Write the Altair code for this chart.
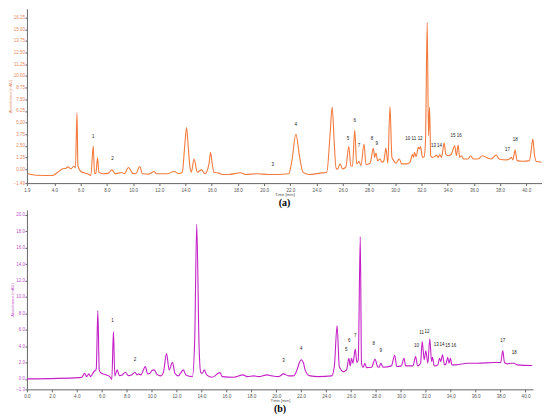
import altair as alt
import pandas as pd

# ---- (a) trace: retention time [min], absorbance [mAU]
a_time = [1.97, 2.6, 3.87, 4.25, 4.63, 4.88, 5.01, 5.26, 5.47, 5.6, 5.72, 5.79, 6.02, 6.53, 6.78,
          6.96, 7.06, 7.16, 7.29, 7.39, 7.67, 8.13, 8.38, 8.64, 9.14, 9.32, 9.65, 9.95, 10.2, 10.51,
          10.71, 11.22, 11.6, 11.78, 12.61, 13.12, 13.5, 13.76, 13.93, 14.08, 14.21, 14.34, 14.44, 14.65, 14.9,
          15.22, 15.48, 15.79, 15.91, 16.04, 16.17, 16.55, 16.8, 17.31, 18.19, 18.57, 19.46, 20.35,
          20.98, 21.87, 22.12, 22.42, 22.71, 22.96, 23.39, 24.27, 24.78, 25.03, 25.19, 25.34, 25.49,
          25.62, 25.79, 25.98, 26.23, 26.46, 26.61, 26.74, 26.91, 27.06, 27.24, 27.39, 27.62, 27.77,
          28.08, 28.33, 28.43, 28.53, 28.66, 28.84, 28.99, 29.14, 29.29, 29.44, 29.6, 29.75, 29.85,
          30.05, 30.31, 30.49, 30.87, 31.12, 31.32, 31.4, 31.47, 31.6, 31.76, 31.85, 31.93, 32.08,
          32.21, 32.31, 32.44, 32.54, 32.62, 32.71, 32.82, 33.02, 33.15, 33.28, 33.4, 33.53, 33.73,
          33.86, 34.04, 34.29, 34.54, 34.67, 34.8, 34.92, 35.05, 35.22, 35.56, 35.76, 35.94, 36.32,
          36.65, 36.95, 37.33, 37.71, 37.92, 38.47, 38.72, 38.87, 38.98, 39.15, 39.3, 39.74, 40.24,
          40.34, 40.5, 40.62, 40.75, 41.17]
a_abs = [-0.49, -0.64, -0.67, -0.32, 0.04, 0.11, 0.25, 0.04, 0.32, 0.15, 6.05, 0.39, -0.24, -0.49, -0.67,
         2.52, -0.49, -0.42, 1.21, -0.32, -0.49, -0.42, -0.07, -0.49, -0.35, -0.49, 0.18, -0.42, -0.49, 0.29,
         -0.49, -0.53, -0.24, -0.49, -0.49, -0.24, -0.49, -0.32, 2.34, 4.46, 2.34, 0.21, -0.32, 1.1, -0.32,
         -0.07, -0.49, 0.57, 1.8, 0.57, -0.32, -0.42, -0.56, -0.56, -0.38, -0.56, -0.49, -0.56,
         -0.56, -0.49, 0.92, 3.76, 1.27, -0.32, -0.56, -0.42, -0.32, 3.76, 6.66, 3.05, 0.04,
         0.04, 0.57, 0.04, 0.21, 2.44, 0.39, 0.32, 4.18, 0.57, 0.82, 0.39, 2.7, 0.5,
         0.64, 2.23, 1.27, 1.74, 0.92, 1.1, 0.74, 0.92, 2.27, 0.64, 6.73, 1.27, 1.0,
         0.64, 1.1, 0.57, 0.57, 0.74, 1.56, 1.27, 1.8, 1.35, 2.34, 2.17, 2.44, 1.27,
         1.35, 3.05, 15.71, 3.58, 6.66, 1.45, 1.27, 1.35, 1.53, 1.27, 1.56, 1.27, 2.8,
         1.63, 1.45, 1.63, 2.52, 1.45, 2.59, 1.27, 1.45, 1.1, 1.1, 1.45, 1.1, 1.1,
         1.45, 1.27, 1.1, 1.53, 1.1, 1.0, 1.1, 1.27, 1.0, 2.06, 0.92, 0.85, 0.92,
         1.63, 3.22, 1.63, 0.85, 0.74]

# ---- (b) trace
b_time = [0.0, 4.23, 4.41, 4.63, 4.79, 4.97, 5.11, 5.37, 5.56, 5.69, 5.8, 5.96, 6.36, 6.7, 6.81,
          6.94, 7.05, 7.24, 7.42, 7.64, 7.9, 8.14, 8.4, 8.67, 8.83, 8.96, 9.15, 9.34, 9.5, 9.68,
          9.87, 10.03, 10.21, 10.43, 10.75, 10.96, 11.2, 11.41, 11.68, 11.87, 12.13, 12.55, 12.75,
          13.27, 13.46, 13.62, 13.81, 13.94, 14.07, 14.23, 14.42, 14.87, 15.48, 15.67, 16.6, 17.34,
          17.66, 18.2, 18.6, 19.26, 19.66, 20.19, 20.59, 20.99, 21.39, 21.65, 21.84, 22.0, 22.19,
          22.32, 22.64, 23.38, 24.45, 24.66, 24.88, 25.06, 25.38, 25.64, 25.83, 25.94, 26.04, 26.15,
          26.34, 26.47, 26.58, 26.74, 26.84, 26.98, 27.11, 27.24, 27.64, 27.93, 28.12, 28.25, 28.39,
          28.57, 29.24, 29.5, 29.67, 30.03, 30.25, 30.38, 30.97, 31.18, 31.34, 31.58, 31.71, 31.87,
          32.0, 32.16, 32.32, 32.46, 32.54, 32.67, 32.96, 33.1, 33.2, 33.34, 33.5, 33.62, 33.76,
          33.86, 33.97, 34.1, 34.42, 35.36, 36.15, 37.49, 38.01, 38.17, 38.31, 38.55, 38.81, 39.08,
          39.35, 40.54]
b_abs = [0.0, 0.16, 0.2, 0.69, 0.28, 0.61, 0.28, 0.89, 1.22, 8.33, 1.1, 0.69, 0.49, 0.2, -0.05,
         5.79, 0.37, 1.1, 0.4, 0.49, 0.81, 0.4, 0.49, 0.81, 0.49, 0.61, 0.49, 1.1, 1.51, 0.61,
         0.69, 1.02, 1.1, 0.56, 0.37, 0.89, 3.1, 1.1, 2.03, 0.69, 0.37, 1.1, 0.49,
         0.28, 4.78, 18.86, 3.96, 0.81, 0.69, 1.1, 0.49, 0.2, 0.77, 0.28, 0.2, 0.49,
         0.28, 0.37, 0.28, 0.49, 0.37, 0.28, 0.61, 0.37, 0.37, 1.02, 1.91, 2.33, 1.91,
         1.1, 0.4, 0.28, 0.37, 1.51, 6.49, 1.51, 0.89, 1.1, 2.52, 1.59, 2.52, 1.91,
         3.63, 2.0, 2.33, 17.34, 1.91, 1.42, 1.91, 1.38, 1.42, 2.4, 1.51, 1.42, 1.91,
         1.42, 1.59, 2.89, 1.51, 1.59, 2.52, 1.59, 1.59, 2.73, 1.59, 1.91, 4.57, 2.33,
         3.43, 1.91, 4.9, 2.12, 2.65, 1.59, 1.71, 2.52, 2.12, 2.94, 1.71, 1.84, 2.65,
         1.91, 2.52, 1.71, 1.71, 1.91, 1.91, 2.0, 2.0, 3.47, 2.0, 1.84, 1.91, 1.91,
         1.71, 1.63]

# ---- peak labels
peak_ids = [str(i) for i in range(1, 19)]
a_lab_time = [6.96, 8.43, 20.65, 22.42, 26.40, 26.91, 27.24, 28.23, 28.59, 30.95, 31.42, 31.9,
              32.92, 33.38, 34.41, 34.89, 38.57, 39.15]
a_lab_abs = [3.27, 0.89, 0.29, 4.57, 3.04, 4.93, 2.29, 3.04, 2.5, 2.99, 2.99, 2.99,
             2.3, 2.3, 3.33, 3.33, 1.81, 2.87]
b_lab_time = [6.86, 8.67, 20.59, 22.0, 25.62, 25.86, 26.34, 27.83, 28.38, 31.26, 31.66, 32.1,
              32.84, 33.3, 33.76, 34.24, 38.17, 39.1]
b_lab_abs = [6.77, 2.03, 1.91, 3.43, 3.26, 4.36, 4.97, 4.04, 3.14, 3.83, 5.34, 5.46,
             3.92, 3.92, 3.8, 3.8, 4.41, 2.89]

# ---- axis ticks
a_x_ticks = [1.9] + [float(v) for v in range(4, 41, 2)]
a_y_ticks = [-1.49, 0.0, 1.25, 2.5, 3.75, 5.0, 6.25, 7.5, 8.75, 10.0, 11.25, 12.5, 13.75, 15.0, 16.25]
b_x_ticks = [float(v) for v in range(0, 41, 2)]
b_y_ticks = [-1.27] + [float(v) for v in range(0, 21, 2)]

df_a = pd.DataFrame({"t": a_time, "v": a_abs})
df_b = pd.DataFrame({"t": b_time, "v": b_abs})
lab_a = pd.DataFrame({"t": a_lab_time, "v": a_lab_abs, "id": peak_ids})
lab_b = pd.DataFrame({"t": b_lab_time, "v": b_lab_abs, "id": peak_ids})

FONT = "Liberation Sans"


def panel(df, lab, color, ycolor, xdom, ydom, xt, yt, yfmt, w, h, tag):
    x = alt.X("t:Q", scale=alt.Scale(domain=xdom, nice=False, zero=False),
              axis=alt.Axis(values=xt, tickCount=200, format=".1f", title="Time [min]", grid=False,
                            labelFontSize=4.6, titleFontSize=4.3, titleFontWeight="normal",
                            labelColor="#555555", titleColor="#555555", tickSize=2.5,
                            domainColor="#666666", tickColor="#666666", titlePadding=1,
                            labelPadding=1.5, labelFlush=False, labelOverlap=False,
                            labelFont=FONT, titleFont=FONT))
    y = alt.Y("v:Q", scale=alt.Scale(domain=ydom, nice=False, zero=False),
              axis=alt.Axis(values=yt, tickCount=200, format=yfmt, title="Absorbance [mAU]",
                            grid=False, labelFontSize=4.5, titleFontSize=4, titleFontWeight="normal",
                            labelColor=ycolor, titleColor=ycolor, tickSize=2,
                            domainColor="#666666", tickColor="#666666", titlePadding=1,
                            labelPadding=0.5, labelFlush=False, labelOverlap=False,
                            labelFont=FONT, titleFont=FONT))
    line = alt.Chart(df).mark_line(color=color, strokeWidth=1.1, interpolate="monotone",
                                   clip=True).encode(x=x, y=y)
    text = alt.Chart(lab).mark_text(fontSize=4.5, baseline="bottom", font=FONT).encode(
        x="t:Q", y="v:Q", text="id:N", color=alt.value("#222222"))
    return alt.layer(line, text).properties(
        width=w, height=h,
        title=alt.TitleParams(tag, orient="bottom", anchor="middle", font="Liberation Serif",
                              fontSize=10, fontWeight="bold", color="#000000", offset=1))


top = panel(df_a, lab_a, "#F47A3C", "#E8875A", [1.9, 41.2], [-1.49, 17.2], a_x_ticks, a_y_ticks,
            ".2f", 517, 175, "(a)")
bottom = panel(df_b, lab_b, "#C520C8", "#C050C8", [0.0, 40.6], [-1.27, 20.6], b_x_ticks, b_y_ticks,
               ".1f", 508, 180, "(b)")

chart = (alt.vconcat(top, bottom, spacing=2)
         .properties(padding=0, background="white")
         .configure_view(stroke=None))

chart.save("out.html", embed_options={"renderer": "svg", "actions": False})
